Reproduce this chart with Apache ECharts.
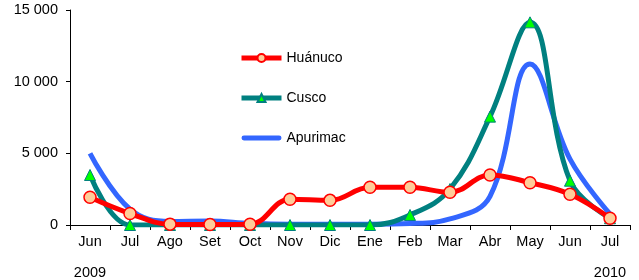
<!DOCTYPE html>
<html><head><meta charset="utf-8">
<script src="https://cdn.jsdelivr.net/npm/echarts@6/dist/echarts.min.js"></script>
<style>html,body{margin:0;padding:0;background:#fff}#c{width:639px;height:280px}</style>
</head><body><div id="c"></div>
<script>
const categories = ['Jun','Jul','Ago','Set','Oct','Nov','Dic','Ene','Feb','Mar','Abr','May','Jun','Jul'];
const yearLabels = ['2009','','','','','','','','','','','','','2010'];
const huanuco = [1930, 800, 60, 40, 50, 1800, 1720, 2630, 2630, 2280, 3490, 2950, 2140, 470];
const cusco = [3490, 0, 0, 0, 0, 0, 0, 0, 700, 2510, 7560, 14140, 3090, 470];
const apurimac = [5000, 1100, 250, 280, 120, 60, 60, 60, 100, 420, 2000, 11230, 4600, 770];
const yTicks = [0, 5000, 10000, 15000];

const chart = echarts.init(document.getElementById('c'), null, {renderer:'canvas'});
const font = 'Liberation Sans, Arial, sans-serif';
chart.setOption({
  animation:false,
  textStyle:{fontFamily:font},
  grid:{left:70,right:9,top:10,bottom:55,containLabel:false},
  legend:{
    orient:'vertical', left:239, top:51, padding:0, itemWidth:40, itemHeight:10, itemGap:26,
    textStyle:{fontSize:14,color:'#000',fontFamily:font},
    lineStyle:{width:5},
    data:[
      {name:'Huánuco'},
      {name:'Cusco'},
      {name:'Apurimac', icon:'path://M2,0 L38,0 A2.5,2.5 0 0 1 38,5 L2,5 A2.5,2.5 0 0 1 2,0 Z', itemStyle:{color:'#3366FF'}}
    ]
  },
  xAxis:[{
    type:'category', data:categories, boundaryGap:true,
    axisLine:{lineStyle:{color:'#000',width:1}},
    axisTick:{show:true,length:5,lineStyle:{color:'#000'}},
    axisLabel:{color:'#000',fontSize:14.5,margin:9,fontFamily:font,interval:0}
  },{
    type:'category', data:yearLabels, position:'bottom', offset:31,
    axisLine:{show:false}, axisTick:{show:false},
    axisLabel:{color:'#000',fontSize:14.5,margin:9,fontFamily:font,interval:0}
  }],
  yAxis:{
    type:'value', min:yTicks[0], max:yTicks[yTicks.length-1], interval:5000,
    splitLine:{show:false},
    axisLine:{show:true,lineStyle:{color:'#000',width:1}},
    axisTick:{show:true,length:4,lineStyle:{color:'#000'}},
    axisLabel:{color:'#000',fontSize:14.5,margin:12,fontFamily:font,
      formatter:v=>String(v).replace(/\B(?=(\d{3})+(?!\d))/g,' ')}
  },
  series:[
    {name:'Apurimac',type:'line',data:apurimac,smooth:0.4,showSymbol:false,symbol:'none',
     lineStyle:{color:'#3366FF',width:5},itemStyle:{color:'#3366FF'},z:2},
    {name:'Cusco',type:'line',data:cusco,smooth:0.4,symbol:'triangle',symbolSize:11,
     lineStyle:{color:'#008080',width:5},itemStyle:{color:'#00FF00',borderColor:'#008080',borderWidth:1},z:3},
    {name:'Huánuco',type:'line',data:huanuco,smooth:0.4,symbol:'circle',symbolSize:12,
     lineStyle:{color:'#FF0000',width:5},itemStyle:{color:'#FFCC99',borderColor:'#FF0000',borderWidth:1.5},z:4}
  ]
});
</script></body></html>
